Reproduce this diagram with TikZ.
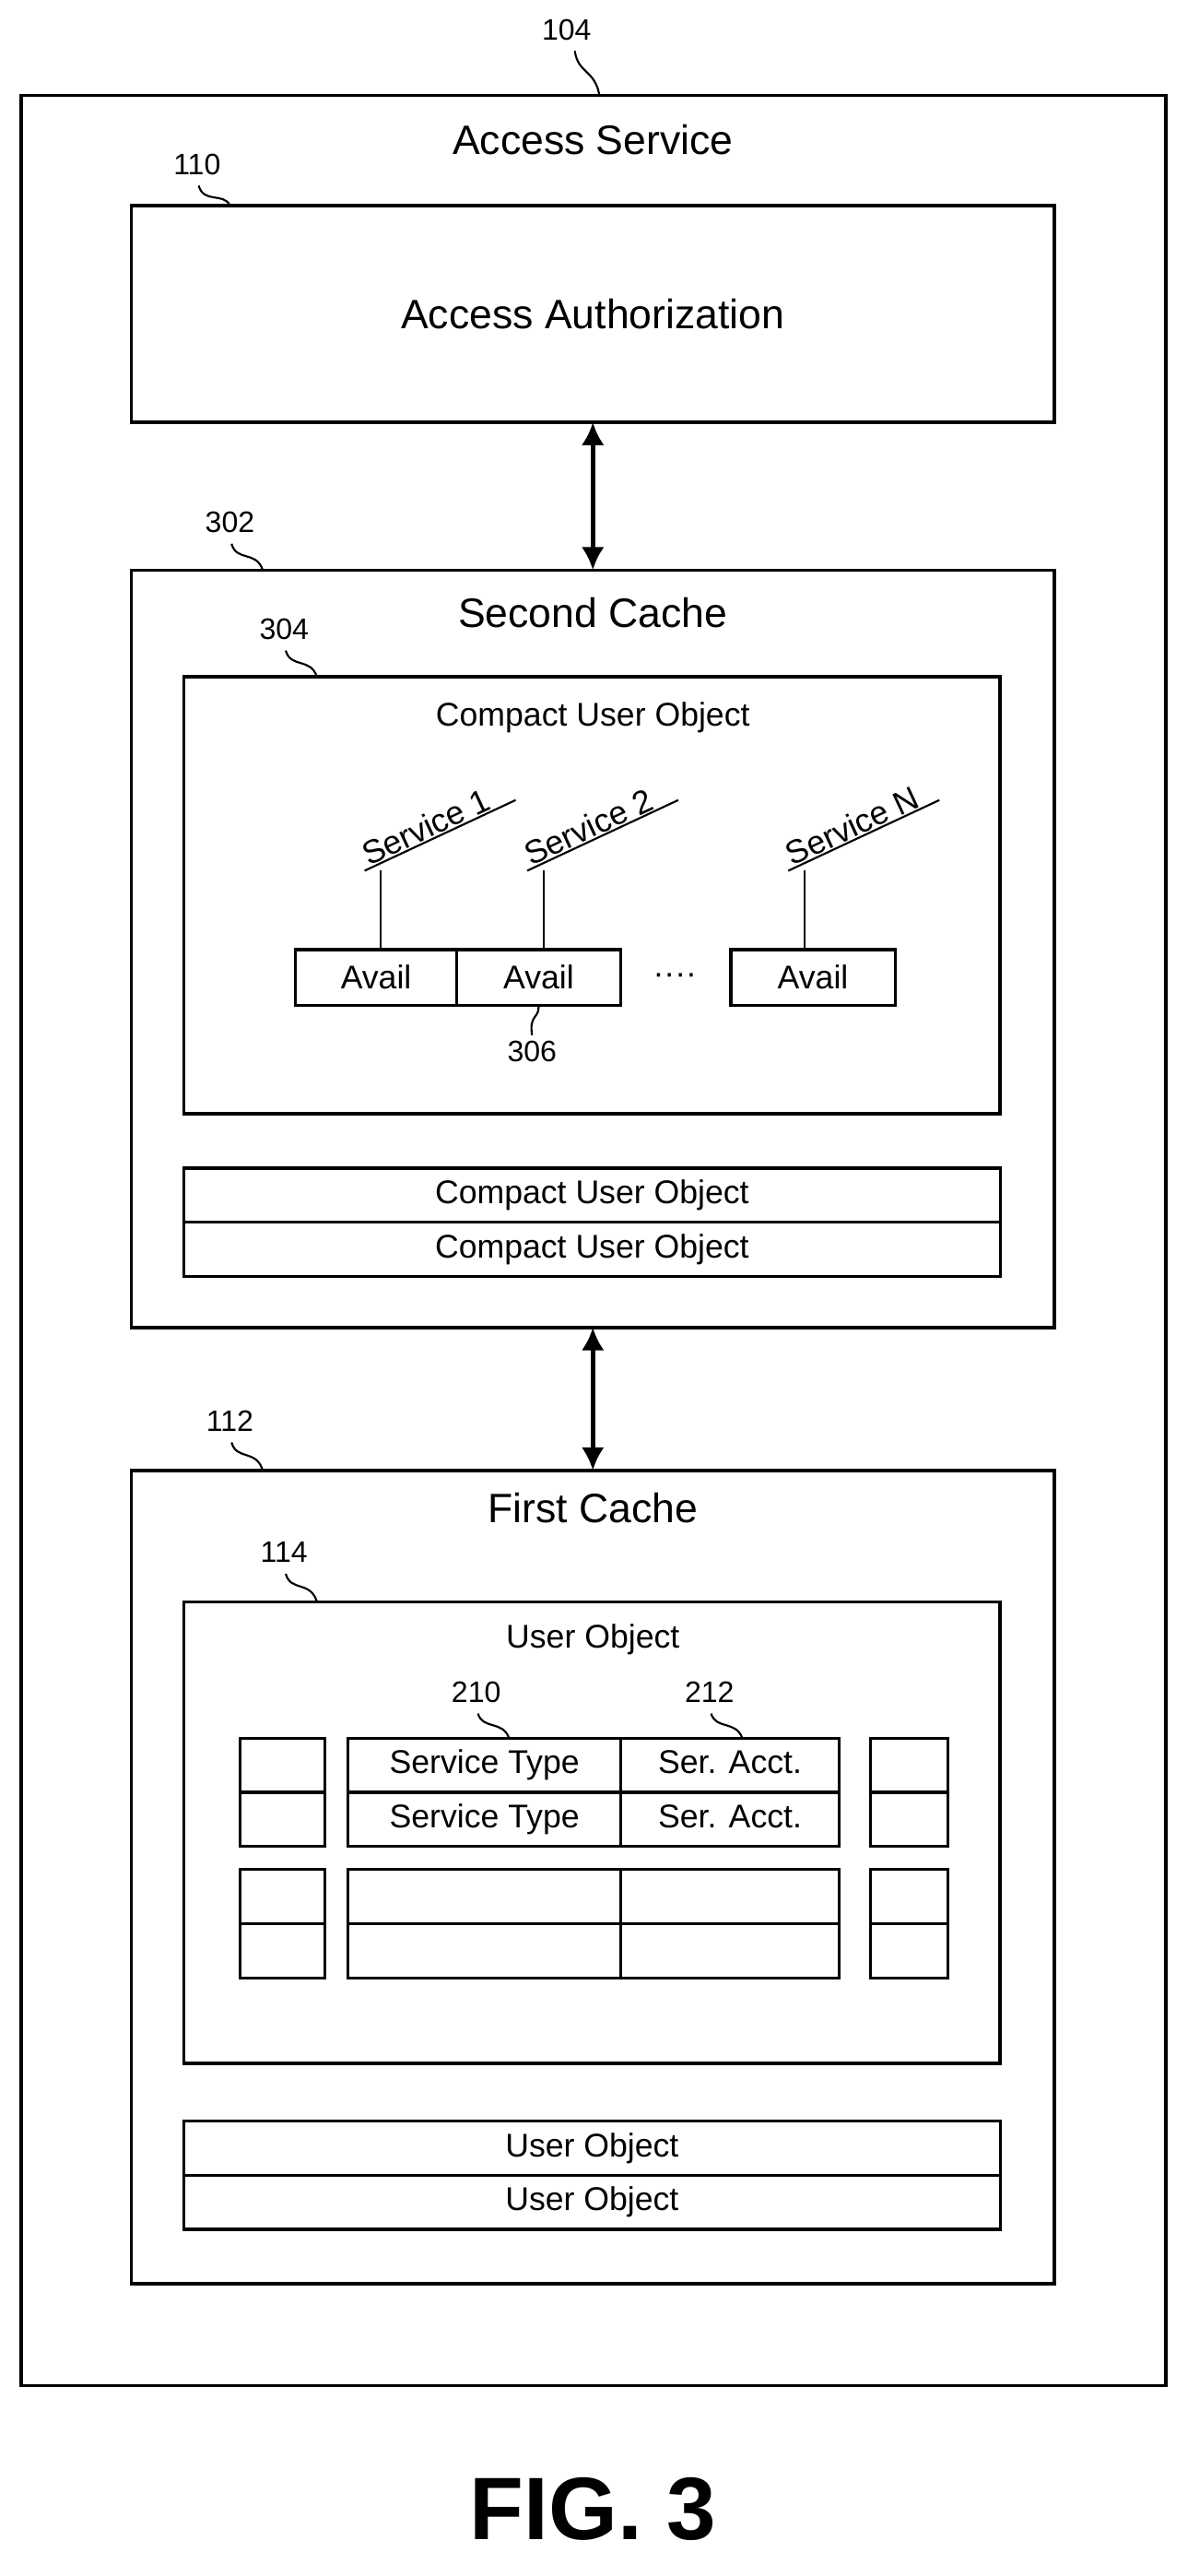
\documentclass[tikz,border=0pt]{standalone}
\usepackage{fontspec}
\setmainfont{Liberation Sans}
\usetikzlibrary{arrows.meta}
\begin{document}
\begin{tikzpicture}[x=1pt,y=-1pt,
 box/.style={draw,line width=2pt,rectangle,inner sep=0},
 cell/.style={draw,line width=1.8pt,rectangle,inner sep=0},
 lead/.style={line width=1.2pt},
 num/.style={font=\fontsize{18}{18}\selectfont},
 big/.style={font=\fontsize{25}{25}\selectfont},
 mid/.style={font=\fontsize{20}{20}\selectfont},
 arr/.style={line width=3pt,<->,>={Latex[length=14pt,width=14pt]}}]
\useasboundingbox (0,0) rectangle (723,1568);
% outer
\draw[box] (13,58) rectangle (710,1452);
\node[big] (as) at (361,85) {Access Service};
\node[num] (n104) at (345,18) {104};
\draw[lead] (350,31) .. controls (352,45) and (362,42) .. (365,58);
% access auth
\node[box,minimum width=562,minimum height=132] (aa) at (361,191) {};
\node[big] at (aa) {Access Authorization};
\node[num] (n110) at (120,100) {110};
\draw[lead] (121,113) .. controls (124,124) and (136,117) .. (140,125);
% second cache
\draw[box] (80,347) rectangle (642,808);
\coordinate (sct) at (361,347);
\coordinate (aab) at (361,257);
\draw[arr] (aab) -- (sct);
\node[big] (sc) at (361,373) {Second Cache};
\node[num] (n302) at (140,318) {302};
\draw[lead] (141,331) .. controls (144,342) and (156,335) .. (160,347);
\draw[box] (112,412) rectangle (609,678);
\node[mid] at (361,437) {Compact User Object};
\node[num] (n304) at (173,383) {304};
\draw[lead] (174,396) .. controls (177,407) and (189,400) .. (193,412);
\node[cell,minimum width=98,minimum height=34,mid] (a1) at (229,595) {Avail};
\node[cell,minimum width=100,minimum height=34,mid] (a2) at (328,595) {Avail};
\node[cell,minimum width=100,minimum height=34,mid] (a3) at (495,595) {Avail};
\node[mid] at (411,596) {····};
\node[num] (n306) at (324,640) {306};
\draw[lead] (a2.south) .. controls (328,620) and (322,618) .. (n306.north);
\foreach \n/\x/\t in {1/232/Service 1,2/331/Service 2,3/490/Service N}{
 \coordinate (u\n) at (\x-10,530);
 \draw[lead] (\x,530) -- (\x,578);
 \draw[lead] (u\n) -- ++(92,-43);
 \node[mid,rotate=25,anchor=south west,inner sep=1pt] at ([shift={(2,-1)}]u\n) {\t};
}
\node[cell,minimum width=497,minimum height=33,mid] (c1) at (360.5,727.5) {Compact User Object};
\node[cell,minimum width=497,minimum height=33,mid] (c2) at (360.5,760.5) {Compact User Object};
% first cache
\draw[box] (80,895) rectangle (642,1390);
\coordinate (fct) at (361,895);
\coordinate (scb) at (361,808);
\draw[arr] (scb) -- (fct);
\node[big] at (361,918) {First Cache};
\node[num] (n112) at (140,865) {112};
\draw[lead] (141,878) .. controls (144,889) and (156,882) .. (160,895);
\draw[box] (112,975) rectangle (609,1256);
\node[mid] at (361,998) {User Object};
\node[num] (n114) at (173,945) {114};
\draw[lead] (174,958) .. controls (177,969) and (189,962) .. (193,975);
\foreach \y in {1058,1091,1138,1171}{
 \draw[cell] (146,\y) rectangle (198,\y+33);
 \draw[cell] (212,\y) rectangle (378,\y+33);
 \draw[cell] (378,\y) rectangle (511,\y+33);
 \draw[cell] (530,\y) rectangle (577,\y+33);
}
\foreach \y in {1074.5,1107.5}{
 \node[mid,text height=14,text depth=4] at (295,\y) {Service Type};
 \node[mid,text height=14,text depth=4] at (444.5,\y) {Ser. Acct.};
}
\node[num] (n210) at (290,1030) {210};
\draw[lead] (291,1043) .. controls (294,1053) and (306,1047) .. (310,1058);
\node[num] (n212) at (432,1030) {212};
\draw[lead] (433,1043) .. controls (436,1053) and (448,1047) .. (452,1058);
\node[cell,minimum width=497,minimum height=33,mid] (u1) at (360.5,1307.5) {User Object};
\node[cell,minimum width=497,minimum height=33,mid] (u2) at (360.5,1340.5) {User Object};
\node[font=\fontsize{54}{54}\selectfont\bfseries] at (361,1527) {FIG. 3};
\end{tikzpicture}
\end{document}
